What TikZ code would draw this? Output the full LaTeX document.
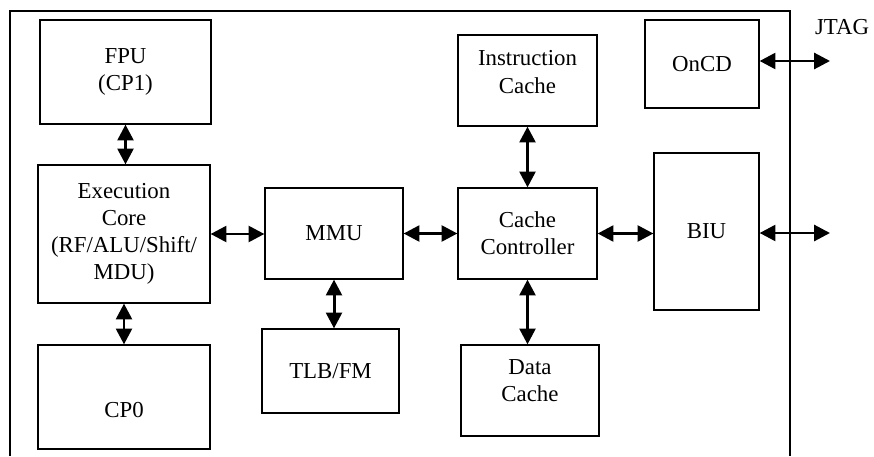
\documentclass[tikz,border=0pt]{standalone}
\usepackage{fontspec}
\setmainfont{Liberation Serif}
\usetikzlibrary{arrows.meta,positioning}

\begin{document}
\begin{tikzpicture}[x=0.02cm, y=-0.02cm,
    nodes={font=\fontsize{13}{15.5}\selectfont, align=center, inner sep=0},
    blk/.style={draw, line width=0.7pt},
    link/.style={line width=1.7pt,
      {Triangle[length=9pt,width=9pt]}-{Triangle[length=9pt,width=9pt]}}]
  \useasboundingbox (0,0) rectangle (874,456);
  % chip outline
  \draw[line width=0.8pt] (10,456) |- (790,11) -- (790,456);
  % blocks
  \node[blk, minimum width=3.42cm, minimum height=2.08cm] (fpu)  at (125.5,72)  {FPU\\(CP1)};
  \node[blk, minimum width=3.44cm, minimum height=2.76cm] (exec) at (124,234)   {Execution\\Core\\(RF/ALU/Shift/\\MDU)};
  \node[blk, minimum width=3.44cm, minimum height=2.08cm,
        label={[yshift=-7.4pt]center:CP0}] (cpz) at (124,397) {};
  \node[blk, minimum width=2.76cm, minimum height=1.82cm] (mmu)  at (334,233.5) {MMU};
  \node[blk, minimum width=2.74cm, minimum height=1.68cm] (tlb)  at (330.5,371) {TLB/FM};
  \node[blk, minimum width=2.78cm, minimum height=1.82cm,
        label={[yshift=4.8pt]center:Instruction\\Cache}] (icache) at (527.5,80.5) {};
  \node[blk, minimum width=2.78cm, minimum height=1.82cm] (cctl) at (527.5,233.5) {Cache\\Controller};
  \node[blk, minimum width=2.76cm, minimum height=1.82cm,
        label={[yshift=5.7pt]center:Data\\Cache}] (dcache) at (530,390.5) {};
  \node[blk, minimum width=2.28cm, minimum height=1.76cm] (oncd) at (702,64)    {OnCD};
  \node[blk, minimum width=2.10cm, minimum height=3.14cm] (biu)  at (706.5,231.5) {BIU};
  \node (jtaglbl) at (842,27) {JTAG};
  \coordinate (jtag) at (830,61);
  \coordinate (bus)  at (830,233);
  % links
  \draw[link] (fpu.south) -- (fpu.south |- exec.north);
  \draw[link] (exec.south) -- (exec.south |- cpz.north);
  \draw[link] (exec.east) -- (exec.east -| mmu.west);
  \draw[link] (mmu.east) -- (mmu.east -| cctl.west);
  \draw[link] (mmu.south) -- (mmu.south |- tlb.north);
  \draw[link] (icache.south) -- (cctl.north);
  \draw[link] (cctl.south) -- (cctl.south |- dcache.north);
  \draw[link] (cctl.east) -- (cctl.east -| biu.west);
  \draw[link] (biu.east |- bus) -- (bus);
  \draw[link] (oncd.east |- jtag) -- (jtag);
\end{tikzpicture}
\end{document}
